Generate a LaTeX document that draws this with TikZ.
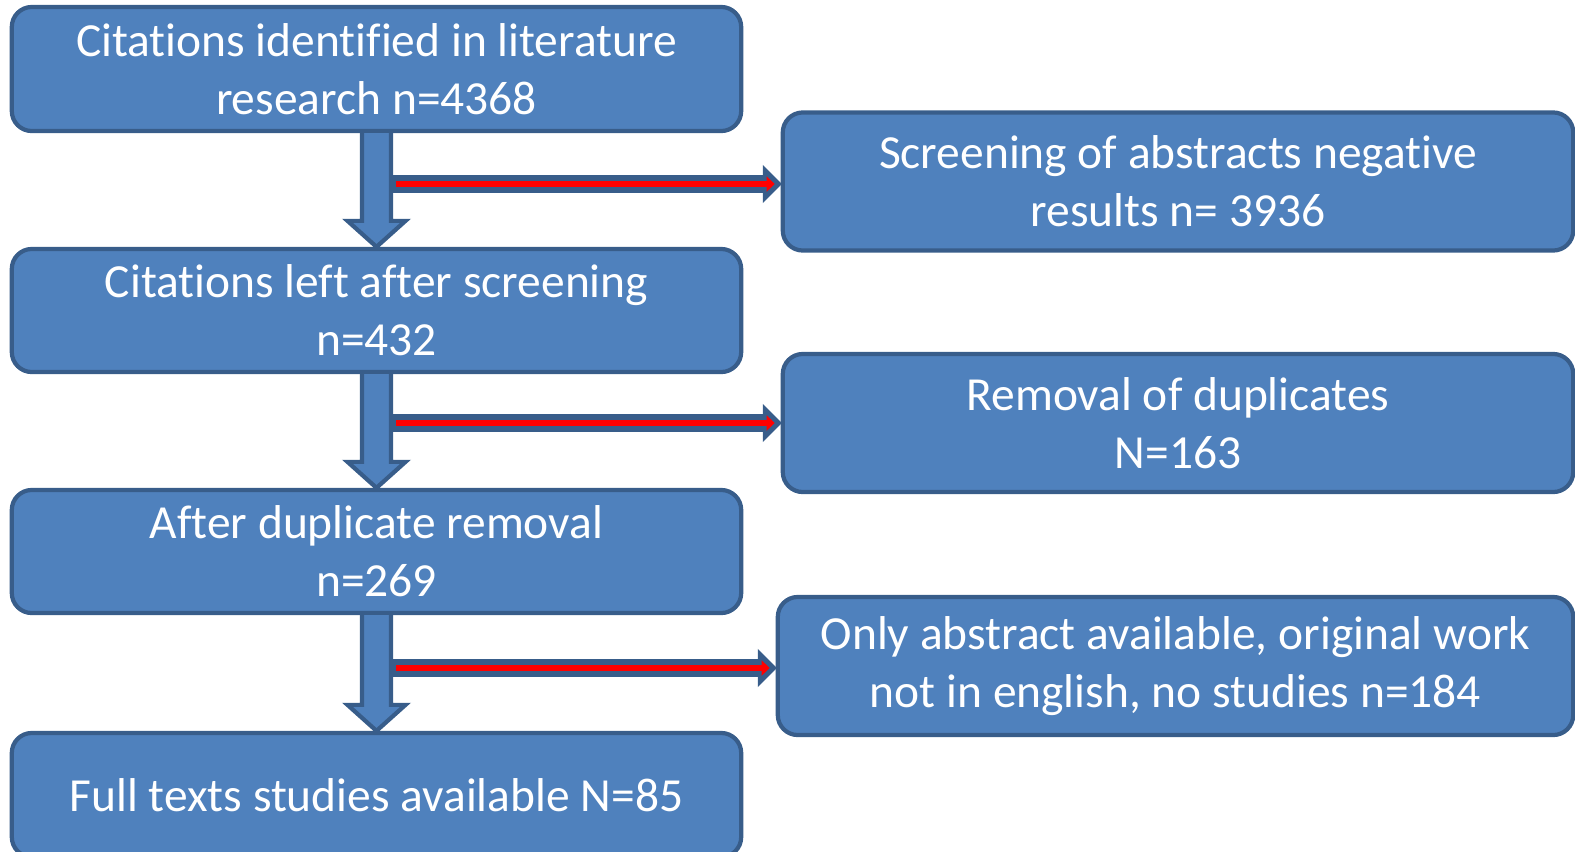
\documentclass[tikz,border=0pt]{standalone}
\usepackage{fontspec}
\setmainfont{Carlito}[RawFeature={-liga;-clig;-calt;-dlig;-ccmp;-rlig}]
\usetikzlibrary{calc,arrows.meta}
\definecolor{boxblue}{HTML}{4F81BD}
\definecolor{boxline}{HTML}{385D8A}
\tikzset{
  stage/.style={draw=boxline, fill=boxblue, line width=1.2pt, rounded corners=0.2cm,
    text=white, align=center, font=\fontsize{13.5}{16.5}\selectfont,
    minimum width=7.29cm, minimum height=1.23cm, inner sep=0pt},
  outcome/.style={stage, minimum width=7.9cm, minimum height=1.38cm},
  downarrow/.style={draw=boxline, fill=boxblue, line width=1.2pt},
  sidearrow/.style={draw=boxline, fill=boxline, line width=0.5pt},
  redline/.style={red, line width=1.7pt, -{Triangle[length=0.08cm,width=0.15cm]}}
}
% block arrow from one stage down to the next
\newcommand{\godown}[2]{
  \draw[downarrow] ($(#1.south)+(-14.5,0)$) -- ($(#2.north)+(-14.5,-26)$)
    -- ($(#2.north)+(-29,-26)$) -- (#2.north) -- ($(#2.north)+(29,-26)$)
    -- ($(#2.north)+(14.5,-26)$) -- ($(#1.south)+(14.5,0)$);
}
% side arrow from a start coordinate to an outcome box
\newcommand{\goright}[2]{
  \coordinate (#1e) at (#1 -| #2.west);
  \draw[sidearrow] ($(#1)+(0,-8)$) -- ($(#1e)+(-17,-8)$) -- ($(#1e)+(-17,-17)$)
    -- (#1e) -- ($(#1e)+(-17,17)$) -- ($(#1e)+(-17,8)$) -- ($(#1)+(0,8)$) -- cycle;
  \draw[redline] ($(#1)+(5,0)$) -- ($(#1e)+(-6,0)$);
}
\begin{document}
\begin{tikzpicture}[x=0.01cm, y=-0.01cm]
  \useasboundingbox (0,0) rectangle (1575,851);
  \clip (0,0) rectangle (1575,851);

  % left column
  \node[stage, minimum height=1.24cm] (c1) at (376.5,69) {Citations identified in literature\\research n=4368};
  \node[stage] (c2) at (376.5,310.5) {Citations left after screening\\n=432};
  \node[stage] (c3) at (376.5,551.5) {After duplicate removal\\n=269};
  \node[stage, minimum height=1.24cm] (c4) at (376.5,795) {Full texts studies available N=85};

  % right column
  \node[outcome] (sa) at (1178,181.5) {Screening of abstracts negative\\results n= 3936};
  \node[outcome] (sb) at (1178,423) {Removal of duplicates\\N=163};
  \node[outcome, minimum width=7.95cm] (sc) at (1175.5,666) {Only abstract available, original work\\not in english, no studies n=184};

  \godown{c1}{c2}
  \godown{c2}{c3}
  \godown{c3}{c4}

  \coordinate (s1) at (391,184);
  \coordinate (s2) at (391,423);
  \coordinate (s3) at (391,668);
  \goright{s1}{sa}
  \goright{s2}{sb}
  \goright{s3}{sc}
\end{tikzpicture}
\end{document}
